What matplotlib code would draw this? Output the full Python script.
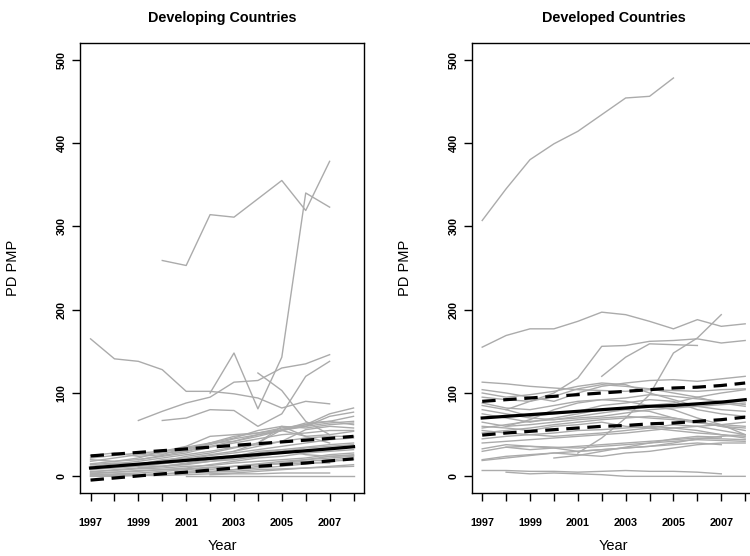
import numpy as np
import matplotlib.pyplot as plt

plt.rcParams['font.family'] = ['Liberation Sans', 'DejaVu Sans']

years = np.arange(1997, 2009)
nan = np.nan

# PD PMP per country, developing group (nan = not reported)
developing = [
    [nan, nan, nan, 259, 253, 314, 311, 333, 355, 319, 378, nan],
    [nan, nan, nan, nan, nan, 100, 148, 81, 143, 340, 323, nan],
    [165, 141, 138, 128, 102, 102, 99, 94, 82, 90, 87, nan],
    [nan, nan, 67, 78, 88, 95, 113, 115, 130, 135, 146, nan],
    [nan, nan, nan, 67, 70, 80, 79, 60, 75, 120, 138, nan],
    [nan, nan, nan, nan, nan, nan, nan, 124, 103, 66, 50, nan],
    [22, 25, 28, 30, 34, 38, 45, 50, 55, 62, 75, 82],
    [18, 22, 26, 28, 30, 36, 42, 48, 55, 60, 72, 77],
    [nan, nan, 20, 25, 30, 40, 48, 52, 56, 60, 64, 66],
    [15, 18, 20, 24, 28, 35, 40, 45, 50, 52, 55, 55],
    [12, 15, 18, 22, 26, 30, 35, 38, 42, 46, 48, 48],
    [10, 12, 14, 16, 20, 25, 28, 32, 36, 40, 44, 46],
    [8, 10, 12, 15, 18, 22, 25, 28, 32, 35, 38, 40],
    [5, 8, 10, 12, 15, 18, 22, 26, 30, 34, 36, 38],
    [3, 5, 6, 8, 10, 14, 18, 22, 24, 28, 30, 32],
    [2, 3, 4, 6, 8, 10, 12, 15, 18, 20, 24, 26],
    [0, 1, 2, 3, 5, 6, 8, 10, 12, 15, 18, 20],
    [0, 0, 1, 1, 2, 3, 4, 6, 8, 10, 12, 14],
    [nan, nan, nan, nan, 0, 0, 0, 0, 0, 0, 0, 0],
    [nan, nan, nan, nan, nan, 2, 3, 3, 4, 4, 4, nan],
    [25, 28, 24, 26, 35, 40, 42, 50, 55, 48, 40, nan],
    [20, 18, 22, 30, 36, 48, 50, 52, 58, 62, 66, 62],
    [14, 16, 15, 18, 24, 28, 34, 40, 60, 48, 50, 54],
    [nan, 12, 14, 20, 22, 26, 30, 36, 42, 56, 60, 58],
    [9, 11, 13, 12, 14, 18, 20, 24, 28, 30, 34, 36],
    [6, 7, 9, 10, 12, 13, 16, 18, 20, 22, 26, 28],
    [4, 5, 7, 8, 9, 11, 12, 14, 16, 18, 20, 22],
    [nan, nan, nan, 30, 32, 40, 46, 55, 60, 58, 62, 64],
    [nan, nan, 10, 12, 16, 20, 24, 30, 32, 26, 24, 25],
    [1, 2, 2, 3, 4, 5, 6, 8, 9, 10, 11, 12],
    [nan, nan, nan, nan, nan, 5, 8, 12, 16, 20, 22, 24],
    [nan, nan, nan, nan, nan, nan, 30, 40, 56, 64, 66, 72],
    [nan, nan, nan, nan, 6, 8, 12, 14, 15, 16, 16, nan],
]

# PD PMP per country, developed group
developed = [
    [307, 345, 380, 399, 414, 434, 454, 456, 478, nan, nan, nan],
    [155, 169, 177, 177, 186, 197, 194, 186, 177, 188, 180, 183],
    [nan, 80, 90, 100, 118, 156, 157, 162, 163, 165, 160, 163],
    [nan, nan, nan, nan, nan, 120, 143, 159, 158, 157, nan, nan],
    [nan, nan, nan, nan, 28, 46, 70, 98, 148, 166, 194, nan],
    [113, 111, 108, 106, 104, 103, 102, 104, 103, 102, 104, 105],
    [104, 100, 95, 90, 100, 108, 112, 115, 116, 114, 117, 120],
    [95, 92, 90, 96, 105, 110, 108, 105, 100, 95, 88, 84],
    [88, 82, 80, 85, 90, 92, 94, 98, 96, 93, 90, 86],
    [85, 80, 72, 75, 78, 85, 88, 92, 90, 80, 75, 72],
    [80, 75, 70, 68, 72, 76, 80, 78, 70, 65, 60, 58],
    [75, 70, 65, 70, 75, 80, 82, 85, 88, 95, 100, 104],
    [65, 60, 62, 65, 68, 70, 72, 70, 68, 64, 62, 60],
    [60, 58, 55, 60, 62, 65, 60, 58, 55, 52, 50, 48],
    [58, 62, 66, 68, 70, 72, 76, 80, 82, 84, 86, 88],
    [55, 52, 50, 48, 50, 52, 55, 58, 62, 60, 55, 50],
    [52, 55, 58, 62, 65, 68, 70, 72, 70, 66, 60, 55],
    [45, 48, 50, 52, 55, 56, 58, 60, 58, 55, 50, 46],
    [40, 42, 44, 46, 48, 50, 52, 55, 58, 60, 62, 65],
    [33, 38, 36, 35, 34, 36, 38, 40, 42, 44, 43, 42],
    [30, 35, 32, 34, 36, 38, 40, 42, 44, 46, 45, 44],
    [20, 24, 26, 28, 30, 32, 34, 36, 40, 45, 48, 50],
    [19, 22, 25, 28, 26, 24, 28, 30, 34, 38, 40, 40],
    [nan, 35, 36, 34, 30, 32, 34, 36, 38, 40, 38, nan],
    [7, 7, 6, 6, 5, 6, 7, 6, 6, 5, 3, nan],
    [nan, 5, 3, 4, 3, 2, 0, 0, 0, 0, 0, 0],
    [nan, 60, 68, 80, 88, 92, 90, 85, 80, 70, 62, 50],
    [nan, nan, nan, 22, 25, 30, 35, 40, 45, 48, 47, nan],
    [100, 95, 98, 102, 108, 112, 110, 100, 92, 84, 80, 78],
]

# fitted mean with upper / lower bands
dev_fit = [10, 12.3, 14.6, 16.9, 19.2, 21.5, 23.8, 26.1, 28.4, 30.7, 33, 35.5]
dev_hi = [24.5, 26.6, 28.7, 30.8, 32.9, 35, 37.1, 39.2, 41.3, 43.4, 45.5, 48]
dev_lo = [-4.5, -2, 0.5, 3, 5, 7.5, 10, 12, 14, 16, 18.5, 21]

ed_fit = [70, 72, 74, 76, 78, 80, 82, 84, 85, 87, 89, 92]
ed_hi = [90, 92, 94, 96, 98, 100, 102, 104, 106, 107, 109, 112]
ed_lo = [49.5, 52, 54, 56, 58, 60, 61, 63, 64, 66, 68, 71]

fig = plt.figure(figsize=(7.5, 5.56), dpi=100)
ax1 = fig.add_axes([0.1067, 0.1133, 0.3787, 0.8094])
ax2 = fig.add_axes([0.6289, 0.1133, 0.3787, 0.8094])

panels = [
    (ax1, "Developing Countries", developing, dev_fit, dev_hi, dev_lo),
    (ax2, "Developed Countries", developed, ed_fit, ed_hi, ed_lo),
]

for ax, title, series, fit, hi, lo in panels:
    for s in series:
        ax.plot(years, s, color='#ababab', lw=1.0)
    ax.plot(years, fit, color='black', lw=2.3)
    ax.plot(years, hi, color='black', lw=2.3, linestyle=(0, (4.2, 2.4)))
    ax.plot(years, lo, color='black', lw=2.3, linestyle=(0, (4.2, 2.4)))

    ax.set_xlim(1996.56, 2008.44)
    ax.set_ylim(-20, 520)
    ax.set_xticks(years)
    ax.set_xticklabels([str(y) if y % 2 == 1 else '' for y in years])
    ax.set_yticks([0, 100, 200, 300, 400, 500])
    ax.tick_params(axis='x', direction='out', length=6, width=1, pad=12,
                   labelsize=7.8)
    ax.tick_params(axis='y', direction='out', length=5.5, width=1, pad=4,
                   labelsize=7.8)
    for lab in ax.get_xticklabels() + ax.get_yticklabels():
        lab.set_fontweight('bold')
    for lab in ax.get_yticklabels():
        lab.set_rotation(90)
        lab.set_va('center')
    for sp in ax.spines.values():
        sp.set_linewidth(1.0)

    ax.set_xlabel("Year", fontsize=10.5)
    ax.set_ylabel("PD PMP", fontsize=10.5)
    ax.yaxis.set_label_coords(-0.21, 0.5)
    ax.xaxis.set_label_coords(0.5, -0.103)

    bb = ax.get_position()
    fig.text((bb.x0 + bb.x1) / 2, 0.9676, title, ha='center', va='center',
             fontsize=10.4, fontweight='bold')

fig.savefig("out.png", dpi=100)
